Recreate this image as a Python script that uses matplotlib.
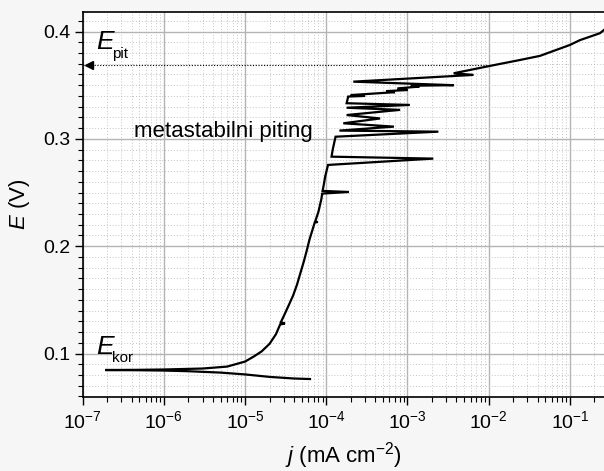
import numpy as np
import matplotlib
matplotlib.use("Agg")
import matplotlib.pyplot as plt
from matplotlib.ticker import FixedLocator, LogLocator, LogFormatterMathtext, MultipleLocator, FormatStrFormatter

plt.rcParams['font.family'] = ['Liberation Sans', 'DejaVu Sans']
plt.rcParams['mathtext.fontset'] = 'custom'
plt.rcParams['mathtext.rm'] = 'Liberation Sans'
plt.rcParams['mathtext.it'] = 'Liberation Sans:italic'

# polarisation curve (j in mA cm-2, E in V)
j_vals = [6.3e-5, 4.0e-5, 2.0e-5, 1.0e-5, 5.0e-6, 2.0e-6, 1.0e-6, 5.0e-7, 1.9e-7,
          5.0e-7, 1.0e-6, 3.0e-6, 6.0e-6, 1.0e-5, 1.3e-5, 1.6e-5, 2.0e-5, 2.4e-5,
          2.7e-5, 3.1e-5, 2.75e-5, 3.0e-5, 3.45e-5, 3.9e-5, 4.35e-5, 4.8e-5, 5.3e-5,
          5.75e-5, 6.2e-5, 7.2e-5, 7.8e-5, 7.3e-5, 8.0e-5, 8.7e-5, 8.9e-5, 1.9e-4,
          9.0e-5, 9.3e-5, 9.7e-5, 1.05e-4, 2.08e-3, 1.16e-4, 1.2e-4, 1.3e-4, 2.4e-3,
          1.45e-4, 6.8e-4, 1.62e-4, 4.6e-4, 1.78e-4, 8.1e-4, 1.78e-4, 1.07e-3,
          1.78e-4, 1.86e-4, 3.0e-4, 2.0e-4, 7.0e-4, 5.5e-4, 1.0e-3, 7.5e-4, 1.4e-3,
          1.1e-3, 3.7e-3, 2.15e-4, 6.5e-3, 3.7e-3, 1.04e-2, 2.43e-2, 4.27e-2, 0.1,
          0.133, 0.234, 0.263]
E_vals = [0.0762, 0.0767, 0.0782, 0.0805, 0.0822, 0.0835, 0.0841, 0.0844, 0.0846,
          0.0848, 0.0851, 0.0860, 0.0878, 0.0925, 0.0975, 0.102, 0.109, 0.118,
          0.127, 0.128, 0.129, 0.135, 0.145, 0.154, 0.164, 0.175, 0.186,
          0.196, 0.206, 0.222, 0.2225, 0.223, 0.232, 0.244, 0.249, 0.2505,
          0.2515, 0.257, 0.265, 0.2757, 0.2816, 0.2834, 0.290, 0.302, 0.3067,
          0.3077, 0.3114, 0.3145, 0.319, 0.3222, 0.327, 0.329, 0.3316,
          0.3332, 0.3394, 0.3400, 0.3408, 0.3435, 0.3445, 0.3455, 0.347, 0.3487,
          0.3495, 0.3500, 0.3533, 0.3596, 0.3611, 0.368, 0.3735, 0.3773, 0.3875,
          0.392, 0.3984, 0.4015]

E_pit = 0.369
j_pit_end = 1.1e-2
x_lim = (1e-7, 0.263)
y_lim = (0.0592, 0.4185)
x_major = [1e-7, 1e-6, 1e-5, 1e-4, 1e-3, 1e-2, 1e-1]

fig = plt.figure(figsize=(6.04, 4.71), dpi=100, facecolor='#f6f6f6')
ax = fig.add_axes([0.1369, 0.1565, 0.8631, 0.8187])
ax.set_facecolor('white')

ax.plot(j_vals, E_vals, color='black', lw=1.6, solid_joinstyle='miter')
ax.set_xscale('log')
ax.set_xlim(*x_lim)
ax.set_ylim(*y_lim)

# E_pit marker line
ax.plot([x_lim[0], j_pit_end], [E_pit, E_pit], color='black', lw=0.8, ls=(0, (1, 1.5)))
ax.plot([1.2e-7], [E_pit], marker='<', color='black', ms=6, clip_on=False)

ax.xaxis.set_major_locator(FixedLocator(x_major))
ax.xaxis.set_minor_locator(LogLocator(base=10, subs=np.arange(2, 10), numticks=12))
ax.xaxis.set_major_formatter(LogFormatterMathtext())
ax.yaxis.set_major_locator(MultipleLocator(0.1))
ax.yaxis.set_minor_locator(MultipleLocator(0.01))
ax.yaxis.set_major_formatter(FormatStrFormatter('%.1f'))

ax.grid(which='major', color='#b4b4b4', lw=1.0)
ax.grid(which='minor', color='#c4c4c4', lw=0.7, ls=(0, (1, 2)))
ax.set_axisbelow(True)

ax.tick_params(which='major', direction='out', length=6, width=1, labelsize=14, pad=3)
ax.tick_params(which='minor', direction='out', length=3.5, width=0.8)
ax.spines['right'].set_visible(False)
for s in ['left', 'bottom', 'top']:
    ax.spines[s].set_linewidth(1.2)

ax.set_xlabel('$j$ (mA cm$^{-2}$)', fontsize=16, labelpad=6)
ax.set_ylabel('$E$ (V)', fontsize=16, labelpad=8)

ax.text(1.45e-7, 0.3835, 'E', fontsize=19, style='italic')
ax.text(2.3e-7, 0.3755, 'pit', fontsize=11)
ax.text(1.45e-7, 0.1, 'E', fontsize=19, style='italic')
ax.text(2.3e-7, 0.0923, 'kor', fontsize=11)
ax.text(4.3e-7, 0.302, 'metastabilni piting', fontsize=16)

fig.savefig('out.png', dpi=100, facecolor=fig.get_facecolor())
